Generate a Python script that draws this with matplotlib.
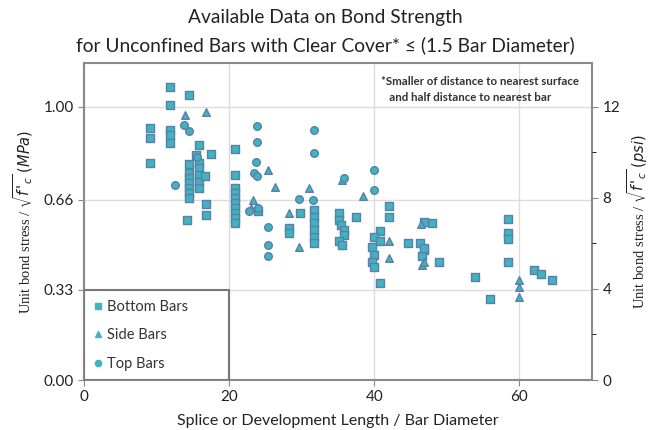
import matplotlib
matplotlib.use("Agg")
import matplotlib.pyplot as plt
from matplotlib.patches import Rectangle
from matplotlib.lines import Line2D

# ---- data ----
bottom_x = [11.8, 14.5, 11.8, 9.1, 9.1, 11.8, 11.8, 11.8, 15.9, 15.4, 17.5, 9.1,
            14.4, 14.4, 14.4, 14.4, 14.4, 14.4, 14.4,
            15.8, 15.8, 15.8, 15.8, 15.8,
            16.7, 16.8, 16.8, 14.2,
            20.8, 20.8, 20.8, 20.8, 20.8, 20.8, 20.8, 20.8, 20.8, 20.8,
            24.0, 28.2, 28.2, 29.8,
            31.7, 31.7, 31.7, 31.7, 31.7, 31.7,
            35.1, 35.1, 35.4, 35.8, 35.8, 37.5, 35.1, 35.6,
            42.0, 42.0,
            40.8, 39.9, 40.8, 39.7, 39.9, 39.7, 39.9, 40.8,
            44.7, 46.8, 47.9, 46.3, 46.8, 46.6, 46.8, 48.9,
            53.9, 55.9, 58.4, 58.4, 58.4, 58.4, 62.0, 63.0, 64.5]
bottom_y = [1.071, 1.044, 1.005, 0.922, 0.885, 0.916, 0.897, 0.867, 0.861, 0.824, 0.827, 0.794,
            0.790, 0.757, 0.738, 0.720, 0.702, 0.684, 0.665,
            0.794, 0.775, 0.751, 0.726, 0.702,
            0.745, 0.643, 0.604, 0.586,
            0.845, 0.751, 0.702, 0.684, 0.665, 0.647, 0.629, 0.610, 0.592, 0.574,
            0.620, 0.555, 0.537, 0.610,
            0.623, 0.598, 0.574, 0.549, 0.525, 0.501,
            0.610, 0.586, 0.568, 0.549, 0.531, 0.596, 0.507, 0.495,
            0.635, 0.596,
            0.547, 0.525, 0.507, 0.488, 0.458, 0.433, 0.415, 0.354,
            0.503, 0.580, 0.576, 0.500, 0.476, 0.452, 0.482, 0.433,
            0.376, 0.296, 0.588, 0.537, 0.515, 0.433, 0.403, 0.388, 0.366]

side_x = [13.9, 16.8, 25.4, 26.3, 23.3, 23.0, 31.0, 28.2, 29.6, 35.5, 38.5,
          42.0, 42.0, 46.6, 46.8, 46.5, 60.0, 60.0, 60.0]
side_y = [0.971, 0.980, 0.767, 0.706, 0.660, 0.630, 0.702, 0.610, 0.488, 0.733, 0.674,
          0.510, 0.446, 0.421, 0.433, 0.570, 0.366, 0.339, 0.305]

top_x = [13.8, 14.5, 12.6, 15.6, 23.9, 23.9, 23.7, 23.4, 23.8, 22.8, 24.0, 25.4, 25.4, 25.4,
         31.7, 31.7, 29.6, 31.6, 35.8, 39.9, 39.9]
top_y = [0.932, 0.910, 0.714, 0.815, 0.930, 0.871, 0.796, 0.757, 0.745, 0.620, 0.630, 0.561, 0.495, 0.452,
         0.913, 0.830, 0.661, 0.657, 0.738, 0.769, 0.696]

left_ticks = [0.0, 0.33, 0.66, 1.00]
left_labels = ["0.00", "0.33", "0.66", "1.00"]
right_ticks = [0, 4, 8, 12]
x_ticks = [0, 20, 40, 60]

FACE = "#3fb3c0"
EDGE = "#5b7fa6"
FONT = ["Lato", "DejaVu Sans"]
SERIF = ["Liberation Serif", "DejaVu Serif"]

fig = plt.figure(figsize=(6.5, 4.3), dpi=100)
ax = fig.add_axes([84/650, 50/430, (592-84)/650, (380-63)/430])

ax.set_xlim(0, 70)
ax.set_ylim(0, 1.16)

kw = dict(s=30, facecolor=FACE, edgecolor=EDGE, linewidths=1.0, zorder=3)
ax.scatter(bottom_x, bottom_y, marker="s", **kw)
ax.scatter(side_x, side_y, marker="^", **kw)
ax.scatter(top_x, top_y, marker="o", **kw)

ax.set_xticks(x_ticks)
ax.set_yticks(left_ticks)
ax.set_yticklabels(left_labels)
ax.grid(True, color="#dcdcdc", lw=1.0, zorder=0)
ax.tick_params(axis="both", colors="#888888", labelcolor="#222222", labelsize=11, length=4)
for lab in ax.get_xticklabels() + ax.get_yticklabels():
    lab.set_family(FONT)
for sp in ax.spines.values():
    sp.set_color("#8a8a8a")
    sp.set_linewidth(1.5)

ax2 = ax.twinx()
ax2.set_ylim(0, 1.16 * 12)
ax2.set_yticks(right_ticks)
ax2.set_yticks([2, 6, 10], minor=True)
ax2.tick_params(axis="y", colors="#888888", labelcolor="#222222", labelsize=11, length=4)
ax2.tick_params(axis="y", which="minor", length=3)
for lab in ax2.get_yticklabels():
    lab.set_family(FONT)
for sp in ax2.spines.values():
    sp.set_visible(False)

# axis labels
ax.set_xlabel("Splice or Development Length / Bar Diameter", fontsize=11.5,
              family=FONT, color="#222222", labelpad=7)
ax.set_ylabel(r"Unit bond stress / $\sqrt{f\,'_c}$ $(MPa)$", fontsize=10.5,
              family=SERIF, color="#222222", labelpad=6)
ax2.set_ylabel(r"Unit bond stress / $\sqrt{f\,'_c}$ $(psi)$", fontsize=10.5,
               family=SERIF, color="#222222", labelpad=4)

# title
fig.text(0.5, 1 - 18/430, "Available Data on Bond Strength", ha="center", va="center",
         fontsize=13.8, family=FONT, color="#222222")
fig.text(0.5, 1 - 45/430, "for Unconfined Bars with Clear Cover* \u2264 (1.5 Bar Diameter)",
         ha="center", va="center", fontsize=13.8, family=FONT, color="#222222")

# footnote annotation
ax.text(0.585, 0.96, "*Smaller of distance to nearest surface\n   and half distance to nearest bar",
        transform=ax.transAxes, ha="left", va="top", fontsize=8.3, family=FONT,
        fontweight="bold", color="#333333", linespacing=1.6)

# legend box
ax.add_patch(Rectangle((0, 0), 20, 0.33, fill=True, facecolor="white",
                       edgecolor="#777777", lw=1.5, zorder=4))
handles = [Line2D([], [], ls="none", marker="s", ms=4.5, mfc=FACE, mec=FACE),
           Line2D([], [], ls="none", marker="^", ms=4.5, mfc=FACE, mec=FACE),
           Line2D([], [], ls="none", marker="o", ms=4.5, mfc=FACE, mec=FACE)]
leg = ax.legend(handles, ["Bottom Bars", "Side Bars", "Top Bars"],
                loc="upper left", bbox_to_anchor=(0.0, 0.285), frameon=False,
                prop={"family": FONT, "size": 10.5}, handlelength=0.5,
                handletextpad=0.4, labelspacing=1.0, borderpad=0.2)
leg.set_zorder(5)
for t in leg.get_texts():
    t.set_color("#333333")

fig.savefig("out.png", dpi=100)
